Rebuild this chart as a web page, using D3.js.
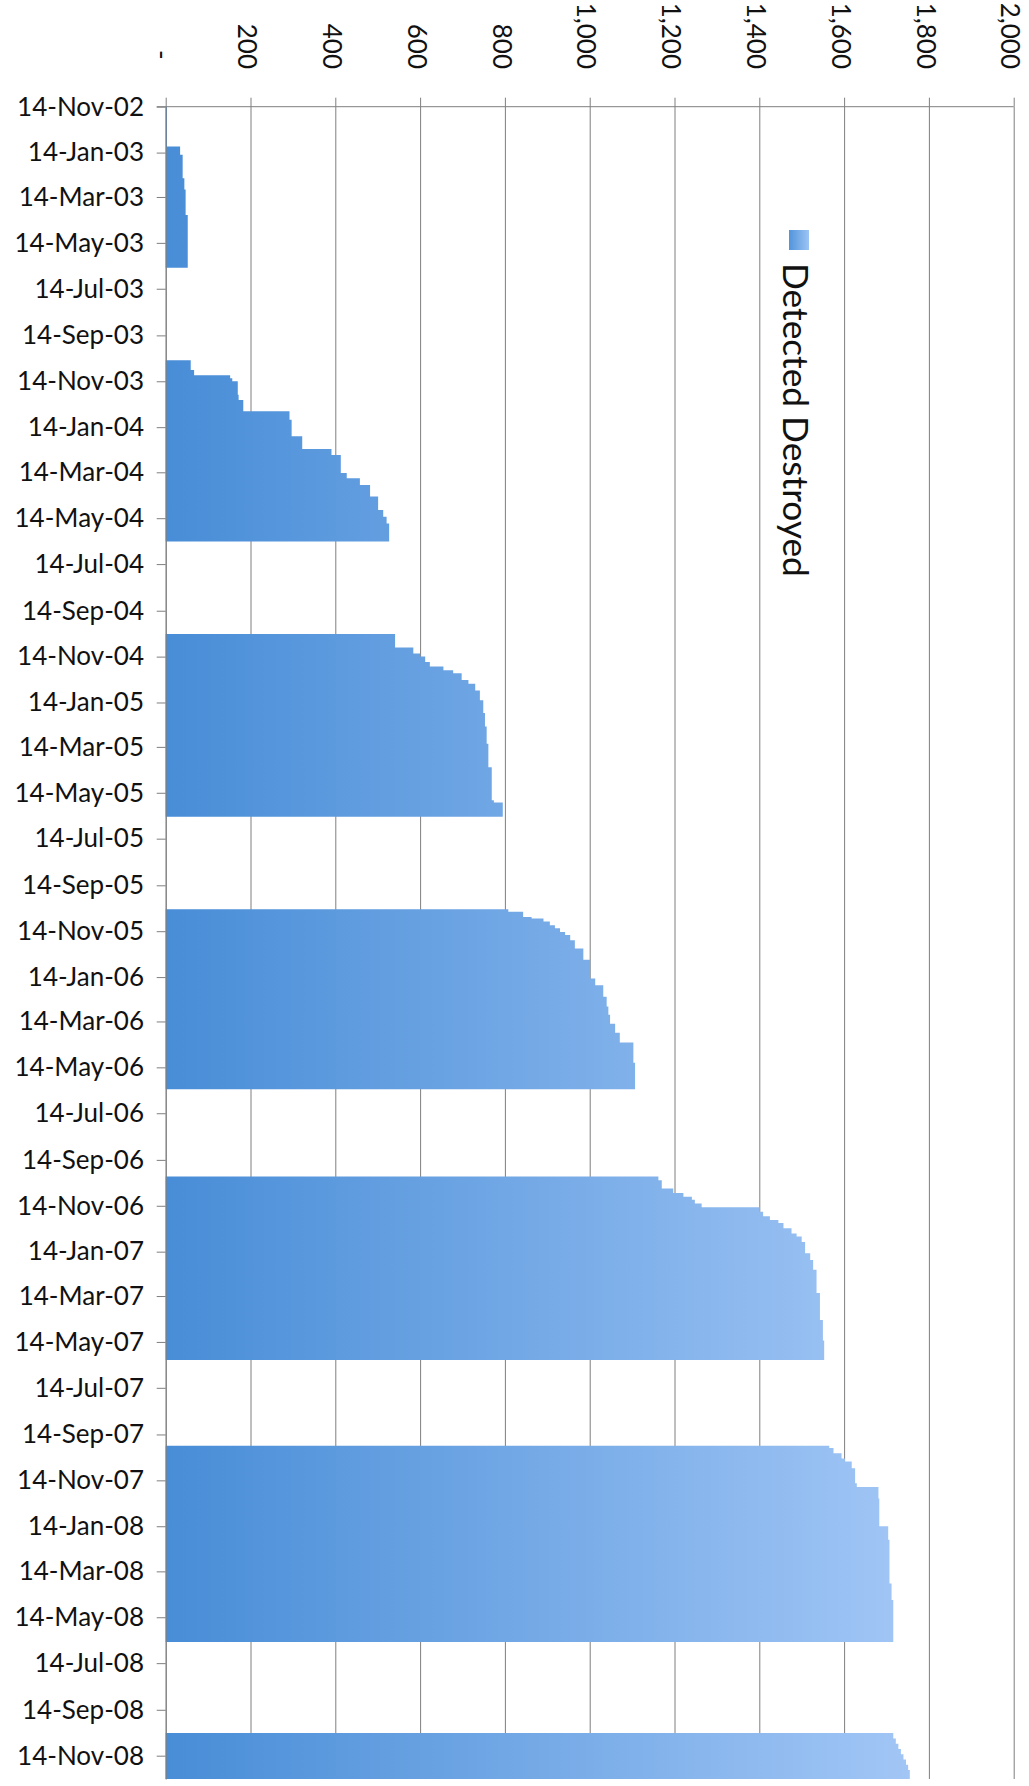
<!DOCTYPE html>
<html>
<head>
<meta charset="utf-8">
<script src="https://cdn.jsdelivr.net/npm/d3@7"></script>
<style>
  html, body { margin: 0; padding: 0; background: #fff; }
  svg { display: block; }
</style>
</head>
<body>
<svg id="chart" width="1029" height="1786"></svg>
<script>
// Category (date) axis labels, every two months
const dateLabels = [
  "14-Nov-02","14-Jan-03","14-Mar-03","14-May-03","14-Jul-03","14-Sep-03",
  "14-Nov-03","14-Jan-04","14-Mar-04","14-May-04","14-Jul-04","14-Sep-04",
  "14-Nov-04","14-Jan-05","14-Mar-05","14-May-05","14-Jul-05","14-Sep-05",
  "14-Nov-05","14-Jan-06","14-Mar-06","14-May-06","14-Jul-06","14-Sep-06",
  "14-Nov-06","14-Jan-07","14-Mar-07","14-May-07","14-Jul-07","14-Sep-07",
  "14-Nov-07","14-Jan-08","14-Mar-08","14-May-08","14-Jul-08","14-Sep-08",
  "14-Nov-08"
];

// Value axis ticks
const valueTicks = [0, 200, 400, 600, 800, 1000, 1200, 1400, 1600, 1800, 2000];

// Cumulative count: each value holds from its date until the next date (0 = no record)
const stepDates = [
  "2002-11-14","2003-01-06","2003-01-17","2003-02-17","2003-03-04","2003-04-07","2003-06-16",
  "2003-10-17","2003-10-30","2003-11-06","2003-11-10","2003-11-14","2003-12-02","2003-12-09",
  "2003-12-24","2004-01-04","2004-01-26","2004-02-12","2004-02-20","2004-03-15","2004-03-22",
  "2004-03-31","2004-04-15","2004-05-03","2004-05-12","2004-05-21","2004-06-14",
  "2004-10-15","2004-11-02","2004-11-10","2004-11-14","2004-11-21","2004-11-27","2004-12-02",
  "2004-12-06","2004-12-15","2004-12-20","2004-12-29","2005-01-11","2005-01-28","2005-02-15",
  "2005-03-10","2005-04-10","2005-05-24","2005-05-27","2005-06-15",
  "2005-10-16","2005-10-19","2005-10-26","2005-10-28","2005-11-01","2005-11-06","2005-11-10",
  "2005-11-15","2005-11-19","2005-11-26","2005-12-07","2005-12-22","2006-01-16","2006-01-25",
  "2006-02-09","2006-02-22","2006-03-05","2006-03-17","2006-03-29","2006-04-11","2006-05-08",
  "2006-06-12",
  "2006-10-06","2006-10-11","2006-10-22","2006-10-28","2006-11-02","2006-11-06","2006-11-11",
  "2006-11-16","2006-11-22","2006-11-28","2006-12-03","2006-12-07","2006-12-14","2006-12-21",
  "2006-12-25","2007-01-01","2007-01-16","2007-01-25","2007-02-07","2007-03-10","2007-04-15",
  "2007-05-12","2007-06-07",
  "2007-09-29","2007-10-02","2007-10-09","2007-10-16","2007-10-20","2007-10-29","2007-11-18",
  "2007-11-23","2007-12-08","2008-01-14","2008-02-01","2008-03-30","2008-04-21","2008-06-16",
  "2008-10-15","2008-10-22","2008-10-29","2008-11-05","2008-11-12","2008-11-19","2008-11-26",
  "2008-12-03"
];
const detectedDestroyed = [
  3, 34, 40, 44, 47, 52, 0,
  59, 67, 152, 157, 170, 172, 183,
  292, 297, 322, 391, 413, 427, 458,
  482, 501, 513, 521, 527, 0,
  541, 584, 600, 612, 623, 655, 678,
  698, 714, 730, 741, 749, 753, 757,
  761, 769, 774, 795, 0,
  808, 843, 863, 891, 906, 918, 930,
  942, 954, 965, 985, 1001, 1013, 1032,
  1040, 1044, 1048, 1060, 1071, 1103, 1107,
  0,
  1162, 1170, 1197, 1221, 1241, 1248, 1264,
  1400, 1409, 1425, 1445, 1457, 1476, 1488,
  1500, 1508, 1520, 1527, 1535, 1543, 1550,
  1553, 0,
  1565, 1575, 1594, 1602, 1618, 1626, 1630,
  1681, 1683, 1704, 1707, 1712, 1716, 0,
  1716, 1722, 1728, 1734, 1740, 1746, 1751,
  1755
];
const lastDay = "2008-12-15";
const seriesName = "Detected Destroyed";

const FONT = "Lato, 'Open Sans', 'Noto Sans', sans-serif";
const LINE = "#7f7f7f";
const INK = "#111";
const plot = { left: 165.7, top: 106.7, right: 1013.7, bottom: 1779 };

const svg = d3.select("#chart");
const parseLabel = d3.utcParse("%d-%b-%y");
const parseDay = d3.utcParse("%Y-%m-%d");

const x = d3.scaleLinear().domain([0, 2000]).range([plot.left, plot.right]);
const y = d3.scaleUtc()
  .domain([parseLabel(dateLabels[0]), parseDay(lastDay)])
  .range([plot.top, plot.bottom]);

// size a font so a sample string spans a given length
function fitFont(sample, target, base) {
  const t = svg.append("text").attr("font-family", FONT).attr("font-size", base).text(sample);
  const w = t.node().getComputedTextLength();
  t.remove();
  return w > 0 ? base * target / w : base;
}
const tickFont = fitFont("14-Nov-02", 127, 24);
const legendFont = fitFont(seriesName, 314, 36);

// gradients
const defs = svg.append("defs");
const barGrad = defs.append("linearGradient")
  .attr("id", "barFill").attr("gradientUnits", "userSpaceOnUse")
  .attr("x1", x(0)).attr("x2", x(2000)).attr("y1", 0).attr("y2", 0);
barGrad.append("stop").attr("offset", 0).attr("stop-color", "#488dd7");
barGrad.append("stop").attr("offset", 1).attr("stop-color", "#aecefa");
const keyGrad = defs.append("linearGradient").attr("id", "keyFill");
keyGrad.append("stop").attr("offset", 0).attr("stop-color", "#5294db");
keyGrad.append("stop").attr("offset", 1).attr("stop-color", "#9cc4f4");

// vertical gridlines
const grid = svg.append("g").attr("transform", `translate(0,${plot.top})`)
  .call(d3.axisTop(x).tickValues(valueTicks).tickSize(-(plot.bottom - plot.top)).tickFormat(""));
grid.select(".domain").remove();
grid.selectAll("line").attr("stroke", LINE).attr("stroke-width", 1);

// bars: consecutive non-zero steps form one filled block
const steps = stepDates.map((d, i) => ({ date: parseDay(d), value: detectedDestroyed[i] }));
const blocks = [];
let current = null;
steps.forEach(s => {
  if (s.value > 0) {
    if (!current) { current = []; blocks.push(current); }
    current.push(s);
  } else if (current) {
    current.push({ date: s.date, value: current[current.length - 1].value });
    current = null;
  }
});
if (current) current.push({ date: parseDay(lastDay), value: current[current.length - 1].value });

const area = d3.area()
  .y(d => y(d.date))
  .x0(x(0))
  .x1(d => x(d.value))
  .curve(d3.curveStepBefore);

svg.append("g").selectAll("path").data(blocks).join("path")
  .attr("d", area)
  .attr("fill", "url(#barFill)");

// value axis along the top
const fmt = d3.format(",");
const topAxis = svg.append("g").attr("transform", `translate(0,${plot.top})`)
  .call(d3.axisTop(x).tickValues(valueTicks).tickSize(9).tickSizeOuter(0)
    .tickFormat(v => v === 0 ? "-" : fmt(v)));
topAxis.select(".domain").attr("stroke", LINE).attr("d", `M${plot.left - 9},0H${plot.right}`);
topAxis.selectAll("line").attr("stroke", LINE);
topAxis.selectAll("text")
  .attr("font-family", FONT).attr("font-size", tickFont).attr("fill", INK)
  .attr("x", 0).attr("y", 0).attr("dy", "0.49em")
  .attr("text-anchor", "end")
  .attr("transform", v => `translate(0,${v === 0 ? -47 : -37.7}) rotate(90)`);

// date axis on the left
const leftAxis = svg.append("g").attr("transform", `translate(${plot.left},0)`)
  .call(d3.axisLeft(y).tickValues(dateLabels.map(parseLabel)).tickSize(9).tickPadding(12.7)
    .tickSizeOuter(0).tickFormat(d3.utcFormat("%d-%b-%y")));
leftAxis.select(".domain").attr("stroke", LINE);
leftAxis.selectAll("line").attr("stroke", LINE);
leftAxis.selectAll("text")
  .attr("font-family", FONT).attr("font-size", tickFont).attr("fill", INK);

// legend
const legend = svg.append("g");
legend.append("rect").attr("x", 789).attr("y", 230).attr("width", 20).attr("height", 20)
  .attr("fill", "url(#keyFill)");
legend.append("text")
  .attr("transform", "translate(783,263) rotate(90)")
  .attr("font-family", FONT).attr("font-size", legendFont).attr("fill", INK)
  .text(seriesName);
</script>
</body>
</html>
